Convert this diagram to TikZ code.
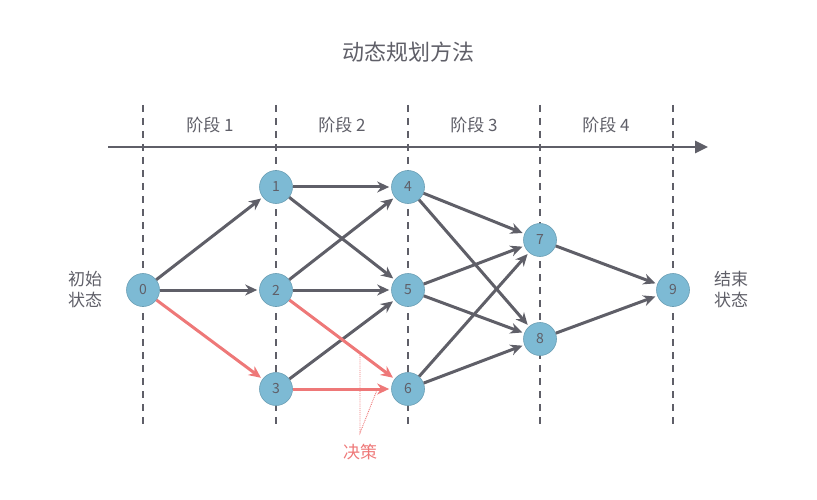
\documentclass[tikz,border=0pt]{standalone}
\usepackage{fontspec}
\setmainfont{Noto Sans CJK SC}
\usetikzlibrary{arrows.meta}
\definecolor{nd}{RGB}{125,186,212}
\definecolor{gr}{RGB}{95,95,104}
\definecolor{rd}{RGB}{238,120,120}
\begin{document}
\begin{tikzpicture}[x=1pt,y=-1pt,
 st/.style={circle,fill=nd,draw=nd!85!black,line width=0.6pt,minimum size=33pt,inner sep=0pt,text=gr,font=\fontsize{14}{14}\selectfont},
 ar/.style={draw=gr,line width=3pt,-{Stealth[length=12pt,width=11pt]},shorten >=2pt},
 ra/.style={ar,draw=rd},
 lb/.style={text=gr,font=\fontsize{17}{17}\selectfont},
 dl/.style={gr,line width=2.2pt,dash pattern=on 7pt off 6pt}]
\useasboundingbox (0,0) rectangle (817,500);
\node[text=gr,font=\fontsize{22}{22}\selectfont] (t) at (408,52) {动态规划方法};
\foreach \x in {143,276,408,540,673} \draw[dl] (\x,105) -- (\x,425);
\coordinate (a0) at (108,147); \coordinate (a1) at (708,147);
\draw[gr,line width=2.8pt,-{Triangle[length=13pt,width=12pt]}] (a0) -- (a1);
\node[lb] (s1) at (210,125) {阶段 1};
\node[lb] (s2) at (342,125) {阶段 2};
\node[lb] (s3) at (474,125) {阶段 3};
\node[lb] (s4) at (606,125) {阶段 4};
\node[lb,align=center] (l0) at (85,290) {初始\\[4pt]状态};
\node[lb,align=center] (l9) at (731,290) {结束\\[4pt]状态};
\node[st] (n0) at (143,290) {0};
\node[st] (n1) at (276,187) {1};
\node[st] (n2) at (276,290) {2};
\node[st] (n3) at (276,389) {3};
\node[st] (n4) at (408,187) {4};
\node[st] (n5) at (408,290) {5};
\node[st] (n6) at (408,389) {6};
\node[st] (n7) at (540,240) {7};
\node[st] (n8) at (540,339) {8};
\node[st] (n9) at (673,290) {9};
\foreach \a/\b in {n0/n1,n0/n2,n1/n4,n1/n5,n2/n4,n2/n5,n3/n5,n4/n7,n4/n8,n5/n7,n5/n8,n6/n7,n6/n8,n7/n9,n8/n9}
  \draw[ar] (\a) -- (\b);
\foreach \a/\b in {n0/n3,n2/n6,n3/n6} \draw[ra] (\a) -- (\b);
\node[text=rd,font=\fontsize{17}{17}\selectfont] (d) at (360,452) {决策};
\coordinate (c0) at (360,433); \coordinate (c1) at (360,355); \coordinate (c2) at (377,390);
\draw[rd,line width=0.9pt,densely dotted] (c1) -- (c0) -- (c2);
\end{tikzpicture}
\end{document}
